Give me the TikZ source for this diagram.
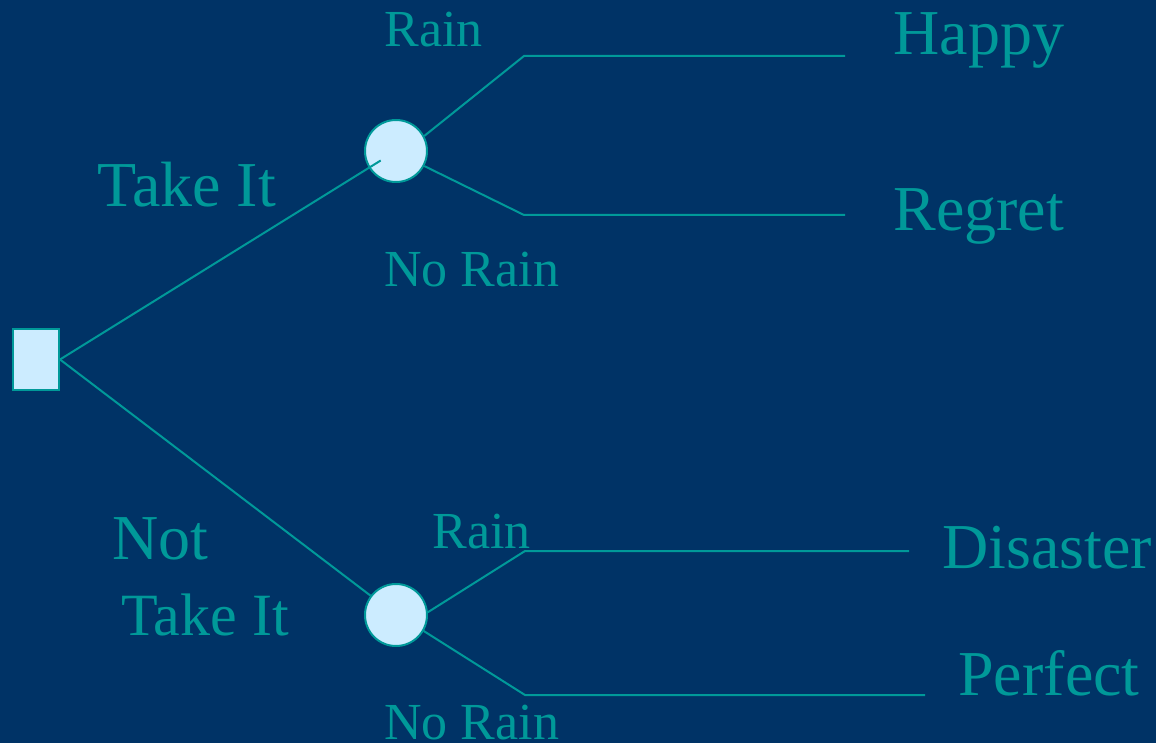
\documentclass[tikz,border=0pt]{standalone}
\usepackage{fontspec}
\setmainfont{Liberation Serif}
\definecolor{bgblue}{HTML}{003366}
\definecolor{tealtext}{HTML}{009999}
\definecolor{paleblue}{HTML}{CCECFF}

\begin{document}
\begin{tikzpicture}[x=0.5pt, y=-0.5pt,
    branch/.style={draw=tealtext, line width=1pt},
    chance/.style={circle, fill=paleblue, draw=tealtext, line width=1pt,
      minimum size=31pt, inner sep=0pt},
    decision/.style={rectangle, fill=paleblue, draw=tealtext, line width=1pt,
      minimum width=23pt, minimum height=30.5pt, inner sep=0pt},
    biglabel/.style={text=tealtext, font=\fontsize{32}{38}\selectfont,
      anchor=base west, inner sep=0pt},
    smalllabel/.style={text=tealtext, font=\fontsize{26}{31}\selectfont,
      anchor=base west, inner sep=0pt}]
  \useasboundingbox[fill=bgblue] (0, 0) rectangle (1156, 743);
  %
  \node[decision] at (36, 359.5) (choice) {};
  \node[chance] at (396, 151) (take) {};
  \node[chance] at (396, 615) (leave) {};
  %
  \coordinate (take rain) at (524, 56);
  \coordinate (take rain end) at (845, 56);
  \coordinate (take dry) at (524, 215);
  \coordinate (take dry end) at (845, 215);
  \coordinate (leave rain) at (525, 551);
  \coordinate (leave rain end) at (909, 551);
  \coordinate (leave dry) at (525, 695);
  \coordinate (leave dry end) at (925, 695);
  %
  \draw[branch, shorten >=-7pt] (choice.east) -- (take);
  \draw[branch] (choice.east) -- (leave);
  %
  \draw[branch] (take.28) -- (take rain) -- (take rain end);
  \draw[branch] (take.-28) -- (take dry) -- (take dry end);
  \draw[branch] (leave.5) -- (leave rain) -- (leave rain end);
  \draw[branch] (leave.-30) -- (leave dry) -- (leave dry end);
  %
  \node[biglabel] at (97, 207) (take lbl) {Take It};
  \node[biglabel] at (112, 559) (not lbl) {Not};
  \node[biglabel, font=\fontsize{30}{36}\selectfont] at (121, 635) (not take lbl) {Take It};
  %
  \node[smalllabel] at (384, 47) (rain a) {Rain};
  \node[smalllabel] at (384, 286) (dry a) {No Rain};
  \node[smalllabel] at (432, 548) (rain b) {Rain};
  \node[smalllabel] at (384, 739) (dry b) {No Rain};
  %
  \node[biglabel] at (893, 55) (happy) {Happy};
  \node[biglabel] at (893, 231) (regret) {Regret};
  \node[biglabel] at (942, 568) (disaster) {Disaster};
  \node[biglabel] at (958, 695) (perfect) {Perfect};
\end{tikzpicture}
\end{document}
